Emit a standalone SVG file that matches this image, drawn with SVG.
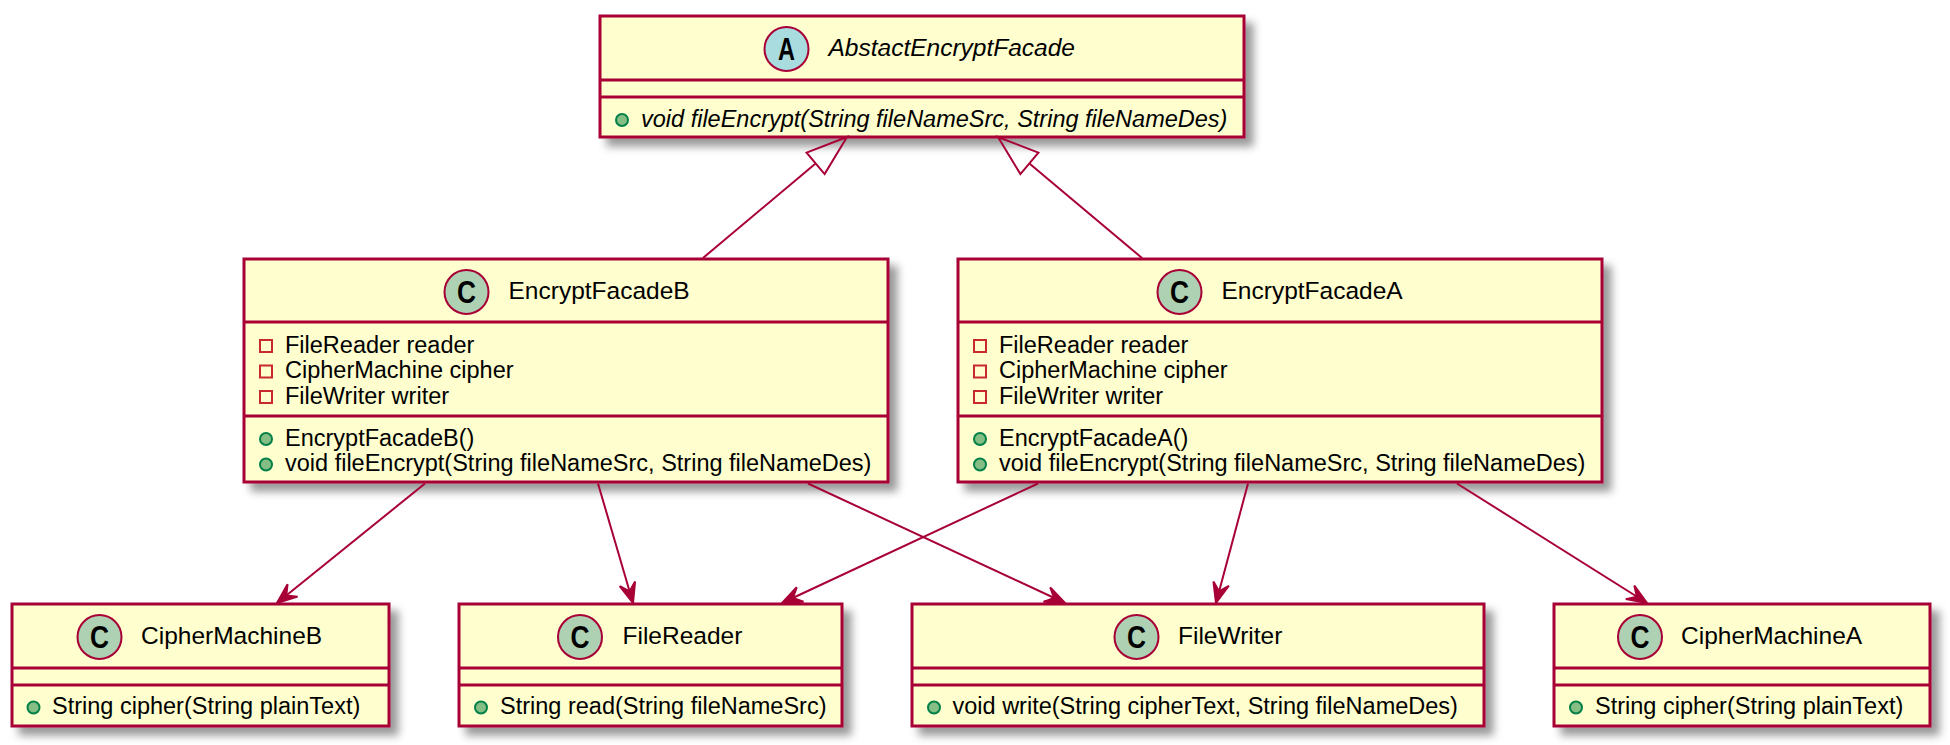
<svg xmlns="http://www.w3.org/2000/svg" width="1950" height="745" viewBox="0 0 1950 745">
<style>
.box{fill:#FEFECE;stroke:#A80036;stroke-width:3;filter:url(#sh)}
.sep{stroke:#A80036;stroke-width:3}
.icC{fill:#ADD1B2;stroke:#A80036;stroke-width:2}
.icA{fill:#A9DCDF;stroke:#A80036;stroke-width:2}
.icl{font-family:"Liberation Sans",Arial,sans-serif;font-weight:bold;font-size:31px;fill:#000;text-anchor:middle}
.title{font-family:"Liberation Sans",Arial,sans-serif;font-size:24.5px;fill:#000}
.mem{font-family:"Liberation Sans",Arial,sans-serif;font-size:23.5px;fill:#000}
.it{font-style:italic}
.priv{fill:none;stroke:#C82930;stroke-width:2}
.pub{fill:#84BE84;stroke:#038048;stroke-width:2}
.assoc{stroke:#A80036;stroke-width:2;fill:none;marker-end:url(#arr)}
.ext{stroke:#A80036;stroke-width:2;fill:none;marker-end:url(#tri)}
</style>
<defs>
<filter id="sh" x="-0.1" y="-0.2" width="1.3" height="1.6">
<feGaussianBlur in="SourceAlpha" stdDeviation="4"/>
<feColorMatrix type="matrix" values="0 0 0 0 0  0 0 0 0 0  0 0 0 0 0  0 0 0 0.4 0"/>
<feOffset dx="8" dy="8" result="s"/>
<feMerge><feMergeNode in="s"/><feMergeNode in="SourceGraphic"/></feMerge>
</filter>
<marker id="arr" markerUnits="userSpaceOnUse" markerWidth="30" markerHeight="30" viewBox="-25 -15 30 30" refX="0" refY="0" orient="auto" overflow="visible">
<path d="M0,0 L-20,-8 L-12,0 L-20,8 Z" fill="#A80036" stroke="#A80036" stroke-width="2"/>
</marker>
<marker id="tri" markerUnits="userSpaceOnUse" markerWidth="50" markerHeight="40" viewBox="-5 -20 50 40" refX="0" refY="0" orient="auto" overflow="visible">
<path d="M41,0 L0,-14 L0,14 Z" fill="none" stroke="#A80036" stroke-width="2"/>
</marker>
</defs>
<rect width="1950" height="745" fill="#FFFFFF"/>

<g id="AbstactEncryptFacade">
<rect class="box" x="600" y="16" width="644" height="121"/>
<line class="sep" x1="600" y1="80" x2="1244" y2="80"/>
<line class="sep" x1="600" y1="97" x2="1244" y2="97"/>
<circle class="icA" cx="786.5" cy="49" r="22"/>
<text class="icl" x="786.5" y="60" textLength="17" lengthAdjust="spacingAndGlyphs">A</text>
<text class="title it" x="828.5" y="55.5">AbstactEncryptFacade</text>
<circle class="pub" cx="622" cy="120" r="6"/>
<text class="mem it" x="641" y="126.5">void fileEncrypt(String fileNameSrc, String fileNameDes)</text>
</g>

<g id="EncryptFacadeB">
<rect class="box" x="244" y="259" width="644" height="223"/>
<line class="sep" x1="244" y1="322" x2="888" y2="322"/>
<line class="sep" x1="244" y1="416" x2="888" y2="416"/>
<circle class="icC" cx="466.5" cy="292" r="22"/>
<text class="icl" x="466.5" y="303" textLength="19" lengthAdjust="spacingAndGlyphs">C</text>
<text class="title" x="508.5" y="298.5">EncryptFacadeB</text>
<rect class="priv" x="260" y="340" width="12" height="12"/>
<text class="mem" x="285" y="352.5">FileReader reader</text>
<rect class="priv" x="260" y="365.5" width="12" height="12"/>
<text class="mem" x="285" y="378">CipherMachine cipher</text>
<rect class="priv" x="260" y="391" width="12" height="12"/>
<text class="mem" x="285" y="403.5">FileWriter writer</text>
<circle class="pub" cx="266" cy="439" r="6"/>
<text class="mem" x="285" y="445.5">EncryptFacadeB()</text>
<circle class="pub" cx="266" cy="464.5" r="6"/>
<text class="mem" x="285" y="471">void fileEncrypt(String fileNameSrc, String fileNameDes)</text>
</g>

<g id="EncryptFacadeA">
<rect class="box" x="958" y="259" width="644" height="223"/>
<line class="sep" x1="958" y1="322" x2="1602" y2="322"/>
<line class="sep" x1="958" y1="416" x2="1602" y2="416"/>
<circle class="icC" cx="1179.5" cy="292" r="22"/>
<text class="icl" x="1179.5" y="303" textLength="19" lengthAdjust="spacingAndGlyphs">C</text>
<text class="title" x="1221.5" y="298.5">EncryptFacadeA</text>
<rect class="priv" x="974" y="340" width="12" height="12"/>
<text class="mem" x="999" y="352.5">FileReader reader</text>
<rect class="priv" x="974" y="365.5" width="12" height="12"/>
<text class="mem" x="999" y="378">CipherMachine cipher</text>
<rect class="priv" x="974" y="391" width="12" height="12"/>
<text class="mem" x="999" y="403.5">FileWriter writer</text>
<circle class="pub" cx="980" cy="439" r="6"/>
<text class="mem" x="999" y="445.5">EncryptFacadeA()</text>
<circle class="pub" cx="980" cy="464.5" r="6"/>
<text class="mem" x="999" y="471">void fileEncrypt(String fileNameSrc, String fileNameDes)</text>
</g>

<g id="CipherMachineB">
<rect class="box" x="12" y="604" width="377" height="122"/>
<line class="sep" x1="12" y1="668" x2="389" y2="668"/>
<line class="sep" x1="12" y1="685" x2="389" y2="685"/>
<circle class="icC" cx="99.5" cy="637" r="22"/>
<text class="icl" x="99.5" y="648" textLength="19" lengthAdjust="spacingAndGlyphs">C</text>
<text class="title" x="141" y="643.5">CipherMachineB</text>
<circle class="pub" cx="33.5" cy="707.5" r="6"/>
<text class="mem" x="52" y="714">String cipher(String plainText)</text>
</g>

<g id="FileReader">
<rect class="box" x="459" y="604" width="383" height="122"/>
<line class="sep" x1="459" y1="668" x2="842" y2="668"/>
<line class="sep" x1="459" y1="685" x2="842" y2="685"/>
<circle class="icC" cx="580" cy="637" r="22"/>
<text class="icl" x="580" y="648" textLength="19" lengthAdjust="spacingAndGlyphs">C</text>
<text class="title" x="622.5" y="643.5">FileReader</text>
<circle class="pub" cx="481" cy="707.5" r="6"/>
<text class="mem" x="500" y="714">String read(String fileNameSrc)</text>
</g>

<g id="FileWriter">
<rect class="box" x="912" y="604" width="572" height="122"/>
<line class="sep" x1="912" y1="668" x2="1484" y2="668"/>
<line class="sep" x1="912" y1="685" x2="1484" y2="685"/>
<circle class="icC" cx="1136.5" cy="637" r="22"/>
<text class="icl" x="1136.5" y="648" textLength="19" lengthAdjust="spacingAndGlyphs">C</text>
<text class="title" x="1178" y="643.5">FileWriter</text>
<circle class="pub" cx="934" cy="707.5" r="6"/>
<text class="mem" x="952.5" y="714">void write(String cipherText, String fileNameDes)</text>
</g>

<g id="CipherMachineA">
<rect class="box" x="1554" y="604" width="376" height="122"/>
<line class="sep" x1="1554" y1="668" x2="1930" y2="668"/>
<line class="sep" x1="1554" y1="685" x2="1930" y2="685"/>
<circle class="icC" cx="1640" cy="637" r="22"/>
<text class="icl" x="1640" y="648" textLength="19" lengthAdjust="spacingAndGlyphs">C</text>
<text class="title" x="1681" y="643.5">CipherMachineA</text>
<circle class="pub" cx="1576" cy="707.5" r="6"/>
<text class="mem" x="1595" y="714">String cipher(String plainText)</text>
</g>

<g id="connectors">
<line class="ext" x1="703" y1="258" x2="815.6" y2="163.4"/>
<line class="ext" x1="1142" y1="258" x2="1029.4" y2="163.4"/>
<line class="assoc" x1="425" y1="483.5" x2="277" y2="603"/>
<line class="assoc" x1="598" y1="483.5" x2="633" y2="603"/>
<line class="assoc" x1="808" y1="483.5" x2="1065" y2="603"/>
<line class="assoc" x1="1038" y1="483.5" x2="782" y2="603"/>
<line class="assoc" x1="1248" y1="483.5" x2="1216" y2="603"/>
<line class="assoc" x1="1457" y1="483.5" x2="1647" y2="603"/>
</g>
</svg>
